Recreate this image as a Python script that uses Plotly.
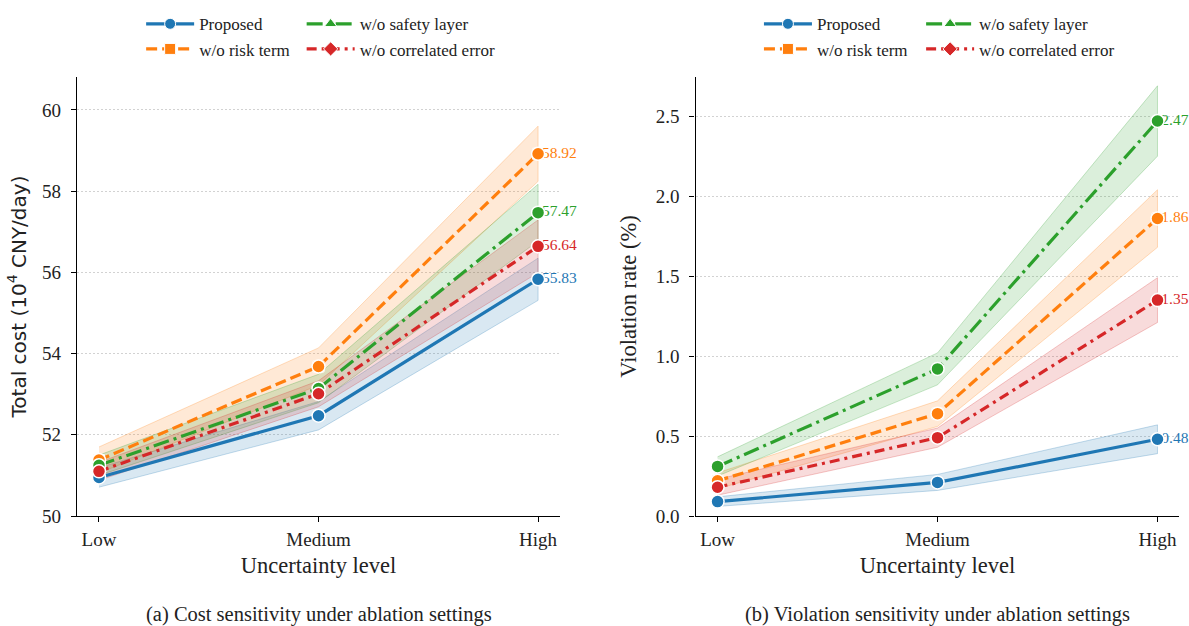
import plotly.graph_objects as go

# Uncertainty levels on the x axis
levels = ["Low", "Medium", "High"]

# Series names, in plotting order
series = ["Proposed", "w/o risk term", "w/o safety layer", "w/o correlated error"]

# Total cost (10^4 CNY/day): means and band limits
cost_proposed = [50.95, 52.47, 55.83]
cost_risk = [51.38, 53.68, 58.92]
cost_safety = [51.25, 53.14, 57.47]
cost_corr = [51.10, 53.01, 56.64]

cost_proposed_lo = [50.71, 52.12, 55.31]
cost_proposed_hi = [51.19, 52.82, 56.35]
cost_risk_lo = [51.06, 53.22, 58.24]
cost_risk_hi = [51.70, 54.14, 59.60]
cost_safety_lo = [51.00, 52.79, 56.77]
cost_safety_hi = [51.50, 53.49, 58.17]
cost_corr_lo = [50.88, 52.69, 55.99]
cost_corr_hi = [51.32, 53.33, 57.29]

# Violation rate (%): means and band limits
viol_proposed = [0.09, 0.21, 0.48]
viol_risk = [0.22, 0.64, 1.86]
viol_safety = [0.31, 0.92, 2.47]
viol_corr = [0.18, 0.49, 1.35]

viol_proposed_lo = [0.06, 0.16, 0.39]
viol_proposed_hi = [0.12, 0.26, 0.57]
viol_risk_lo = [0.17, 0.56, 1.68]
viol_risk_hi = [0.27, 0.72, 2.04]
viol_safety_lo = [0.25, 0.82, 2.25]
viol_safety_hi = [0.37, 1.02, 2.69]
viol_corr_lo = [0.13, 0.43, 1.21]
viol_corr_hi = [0.23, 0.55, 1.49]

colors = ["#1f77b4", "#ff7f0e", "#2ca02c", "#d62728"]
fills = ["rgba(31,119,180,0.17)", "rgba(255,127,14,0.17)",
         "rgba(44,160,44,0.17)", "rgba(214,39,40,0.17)"]
edges = ["rgba(31,119,180,0.25)", "rgba(255,127,14,0.25)",
         "rgba(44,160,44,0.25)", "rgba(214,39,40,0.25)"]
dashes = ["solid", "11px,5px", "16px,5px,3px,5px", "10px,5px,3px,5px"]
symbols = ["circle", "square", "triangle-up", "diamond"]

cost_means = [cost_proposed, cost_risk, cost_safety, cost_corr]
cost_lo = [cost_proposed_lo, cost_risk_lo, cost_safety_lo, cost_corr_lo]
cost_hi = [cost_proposed_hi, cost_risk_hi, cost_safety_hi, cost_corr_hi]
viol_means = [viol_proposed, viol_risk, viol_safety, viol_corr]
viol_lo = [viol_proposed_lo, viol_risk_lo, viol_safety_lo, viol_corr_lo]
viol_hi = [viol_proposed_hi, viol_risk_hi, viol_safety_hi, viol_corr_hi]

SERIF = "Liberation Serif, Times New Roman, serif"
SANS = "DejaVu Sans, sans-serif"
INK = "#222222"

fig = go.Figure()

# legend column for each series: two columns per panel
legend_cols = {
    ("x", 0): "legend", ("x", 1): "legend", ("x", 2): "legend2", ("x", 3): "legend2",
    ("x2", 0): "legend3", ("x2", 1): "legend3", ("x2", 2): "legend4", ("x2", 3): "legend4",
}


def add_panel(means, lo, hi, xaxis, yaxis, fmt):
    # shaded bands
    for i in range(4):
        fig.add_trace(go.Scatter(
            x=levels + levels[::-1], y=hi[i] + lo[i][::-1],
            fill="toself", fillcolor=fills[i],
            line=dict(color=edges[i], width=1),
            mode="lines", hoverinfo="skip", showlegend=False,
            xaxis=xaxis, yaxis=yaxis))
    # lines with series markers
    for i in range(4):
        fig.add_trace(go.Scatter(
            x=levels, y=means[i], name=series[i], mode="lines+markers",
            line=dict(color=colors[i], width=3.2, dash=dashes[i]),
            marker=dict(symbol=symbols[i], size=11, color=colors[i],
                        line=dict(color="white", width=1)),
            legend=legend_cols[(xaxis, i)],
            xaxis=xaxis, yaxis=yaxis))
    # value labels at the high level (beneath the round markers)
    for i in range(4):
        fig.add_trace(go.Scatter(
            x=[levels[-1]], y=[means[i][-1]], mode="text",
            text=[" " + fmt.format(means[i][-1])], textposition="middle right",
            textfont=dict(family=SERIF, size=15.5, color=colors[i]),
            cliponaxis=False,
            showlegend=False, hoverinfo="skip", xaxis=xaxis, yaxis=yaxis))
    # round point markers on top
    for i in range(4):
        fig.add_trace(go.Scatter(
            x=levels, y=means[i], mode="markers",
            marker=dict(symbol="circle", size=13, color=colors[i],
                        line=dict(color="white", width=1.5)),
            cliponaxis=False,
            showlegend=False, hoverinfo="skip", xaxis=xaxis, yaxis=yaxis))


add_panel(cost_means, cost_lo, cost_hi, "x", "y", "{:.2f}")
add_panel(viol_means, viol_lo, viol_hi, "x2", "y2", "{:.2f}")

axis_common = dict(
    showline=True, linecolor="black", linewidth=1.3, mirror=False,
    ticks="outside", ticklen=5, tickwidth=1.2, tickcolor="black",
    tickfont=dict(family=SERIF, size=19, color=INK),
    zeroline=False, automargin=False,
)

xaxis_common = dict(axis_common, type="category", range=[-0.1, 2.1], showgrid=False,
                    ticklabelstandoff=1,
                    title=dict(text="Uncertainty level", standoff=8,
                               font=dict(family=SERIF, size=22.5, color=INK)))

grid = dict(showgrid=True, gridcolor="#d2d2d2", griddash="2px,2px", gridwidth=1)

fig.update_layout(
    width=1189, height=626,
    margin=dict(l=0, r=0, t=0, b=0, autoexpand=False),
    paper_bgcolor="white", plot_bgcolor="white",
    xaxis=dict(xaxis_common, domain=[0.0648, 0.471], anchor="y"),
    xaxis2=dict(xaxis_common, domain=[0.585, 0.992], anchor="y2"),
    yaxis=dict(axis_common, **grid, domain=[0.1757, 0.877], anchor="x", range=[50, 60.81],
               tickvals=[50, 52, 54, 56, 58, 60], ticklabelstandoff=6,
               title=dict(text="Total cost (10<sup>4</sup> CNY/day)", standoff=10,
                          font=dict(family=SANS, size=20, color=INK))),
    yaxis2=dict(axis_common, **grid, domain=[0.1757, 0.877], anchor="x2", range=[0, 2.745],
                tickvals=[0, 0.5, 1.0, 1.5, 2.0, 2.5], tickformat=".1f", ticklabelstandoff=6,
                title=dict(text="Violation rate (%)", standoff=12,
                           font=dict(family=SERIF, size=22.5, color=INK))),
    showlegend=True,
)

legend_common = dict(
    orientation="v", yanchor="top", y=0.99, xanchor="left",
    bgcolor="rgba(0,0,0,0)", borderwidth=0,
    font=dict(family=SERIF, size=17, color=INK),
    itemwidth=48, tracegroupgap=0,
)
fig.update_layout(
    legend=dict(legend_common, x=0.1187),
    legend2=dict(legend_common, x=0.2537),
    legend3=dict(legend_common, x=0.6383),
    legend4=dict(legend_common, x=0.7747),
)

fig.add_annotation(text="(a) Cost sensitivity under ablation settings",
                   x=0.2679, y=0.019, xref="paper", yref="paper",
                   xanchor="center", yanchor="middle", showarrow=False,
                   font=dict(family=SERIF, size=20.5, color=INK))
fig.add_annotation(text="(b) Violation sensitivity under ablation settings",
                   x=0.7885, y=0.019, xref="paper", yref="paper",
                   xanchor="center", yanchor="middle", showarrow=False,
                   font=dict(family=SERIF, size=20.5, color=INK))

fig.write_html("out.html")
